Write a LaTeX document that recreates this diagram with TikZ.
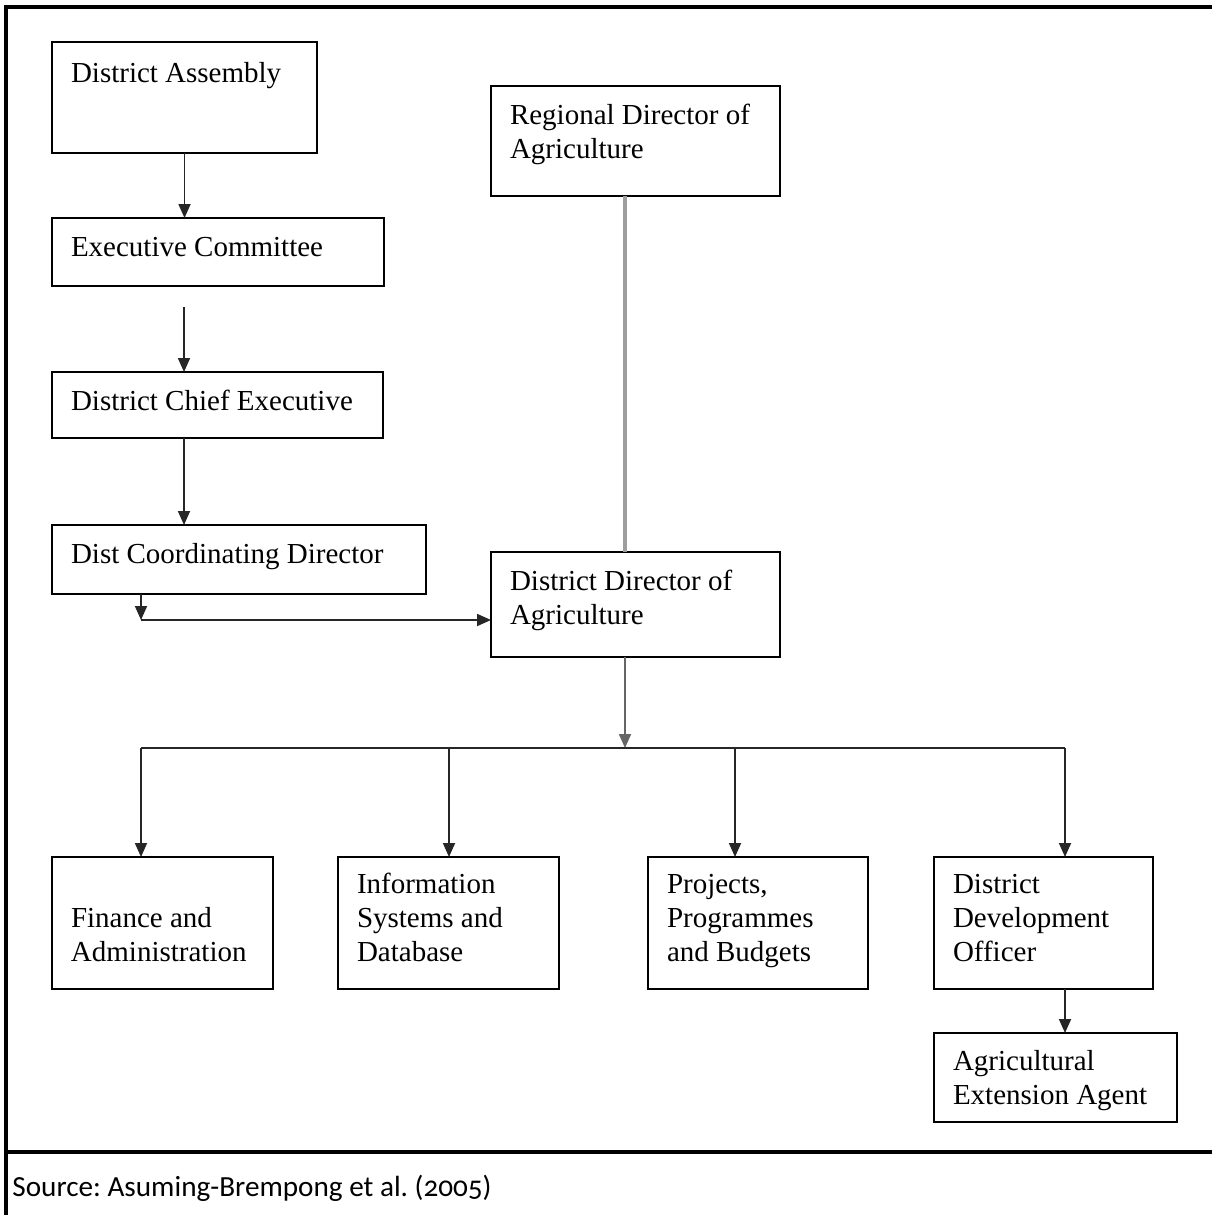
\documentclass[tikz,border=0pt]{standalone}
\usepackage{fontspec}
\setmainfont{Liberation Serif}
\newfontfamily\srcfont[Numbers=OldStyle]{Carlito}
\usetikzlibrary{arrows.meta}

% one unit of the layout grid
\newlength\pxu
\setlength\pxu{0.5pt}

% box text: width, height, first baseline below the top edge, lines
\newcommand\boxtxt[4]{%
  \parbox[c][#2\pxu][t]{#1\pxu}{%
    \leftskip=19\pxu\rightskip=0pt plus 1fill
    \vspace*{\dimexpr#3\pxu-12pt\relax}%
    \rule{0pt}{12pt}#4}}

\frenchspacing
\begin{document}
\begin{tikzpicture}[x=1\pxu, y=-1\pxu,
  orgbox/.style={draw=black, line width=1.2pt, anchor=north west,
    inner sep=0pt, outer sep=0pt, fill=white,
    font=\fontsize{14.5}{17}\selectfont},
  arr/.style={draw=black!85, line width=0.9pt,
    -{Triangle[width=6pt,length=7pt]}},
  link/.style={draw=black!85, line width=0.9pt},
  softlink/.style={draw=black!38, line width=1.7pt},
  frame/.style={draw=black, line width=1.7pt}]

\useasboundingbox (0,0) rectangle (1212,1215);
\fill[white] (0,0) rectangle (1212,1215);

% outer frame and source row
\draw[frame, line join=miter] (6,1215) -- (6,7) -- (1212,7);
\draw[frame] (6,1152) -- (1212,1152);
\node[anchor=base west, inner sep=0pt, font=\srcfont\fontsize{14.6}{17}\selectfont]
  (src) at (12,1196) {Source: Asuming-Brempong et al. (2005)};

% district assembly chain
\node[orgbox] (da)  at (52,42)  {\boxtxt{265}{111}{40}{District Assembly}};
\node[orgbox] (ec)  at (52,218) {\boxtxt{332}{68}{38}{Executive Committee}};
\node[orgbox] (dce) at (52,372) {\boxtxt{331}{66}{38}{District Chief Executive}};
\node[orgbox] (dcd) at (52,525) {\boxtxt{374}{69}{38}{Dist Coordinating Director}};

% agriculture line
\node[orgbox] (rda) at (491,86)  {\boxtxt{289}{110}{38}{Regional Director of\\Agriculture}};
\node[orgbox] (dda) at (491,552) {\boxtxt{289}{105}{38}{District Director of\\Agriculture}};

% units
\node[orgbox] (fin)  at (52,857)  {\boxtxt{221}{132}{70}{Finance and\\Administration}};
\node[orgbox] (info) at (338,857) {\boxtxt{221}{132}{36}{Information\\Systems and\\Database}};
\node[orgbox] (proj) at (648,857) {\boxtxt{220}{132}{36}{Projects,\\Programmes\\and Budgets}};
\node[orgbox] (ddo)  at (934,857) {\boxtxt{219}{132}{36}{District\\Development\\Officer}};
\node[orgbox] (aea)  at (934,1033) {\boxtxt{243}{89}{37}{Agricultural\\Extension Agent}};

% routing points
\coordinate (ecgap) at (184,307);
\coordinate (elbow) at (141,620);
\coordinate (join)  at (625,748);
\coordinate (b1) at (141,748);
\coordinate (b2) at (449,748);
\coordinate (b3) at (735,748);
\coordinate (b4) at (1065,748);

% connectors
\draw[arr] (da.south) -- (da.south |- ec.north);
\draw[arr] (ecgap) -- (ecgap |- dce.north);
\draw[arr] (ecgap |- dce.south) -- (ecgap |- dcd.north);
\draw[arr] (elbow |- dcd.south) -- (elbow);
\draw[arr] (elbow) -- (elbow -| dda.west);
\draw[softlink] (join |- rda.south) -- (join |- dda.north);
\draw[arr, draw=black!60] (join |- dda.south) -- (join);
\draw[link] (b1) -- (b4);
\draw[arr] (b1) -- (b1 |- fin.north);
\draw[arr] (b2) -- (b2 |- info.north);
\draw[arr] (b3) -- (b3 |- proj.north);
\draw[arr] (b4) -- (b4 |- ddo.north);
\draw[arr] (b4 |- ddo.south) -- (b4 |- aea.north);
\end{tikzpicture}
\end{document}
